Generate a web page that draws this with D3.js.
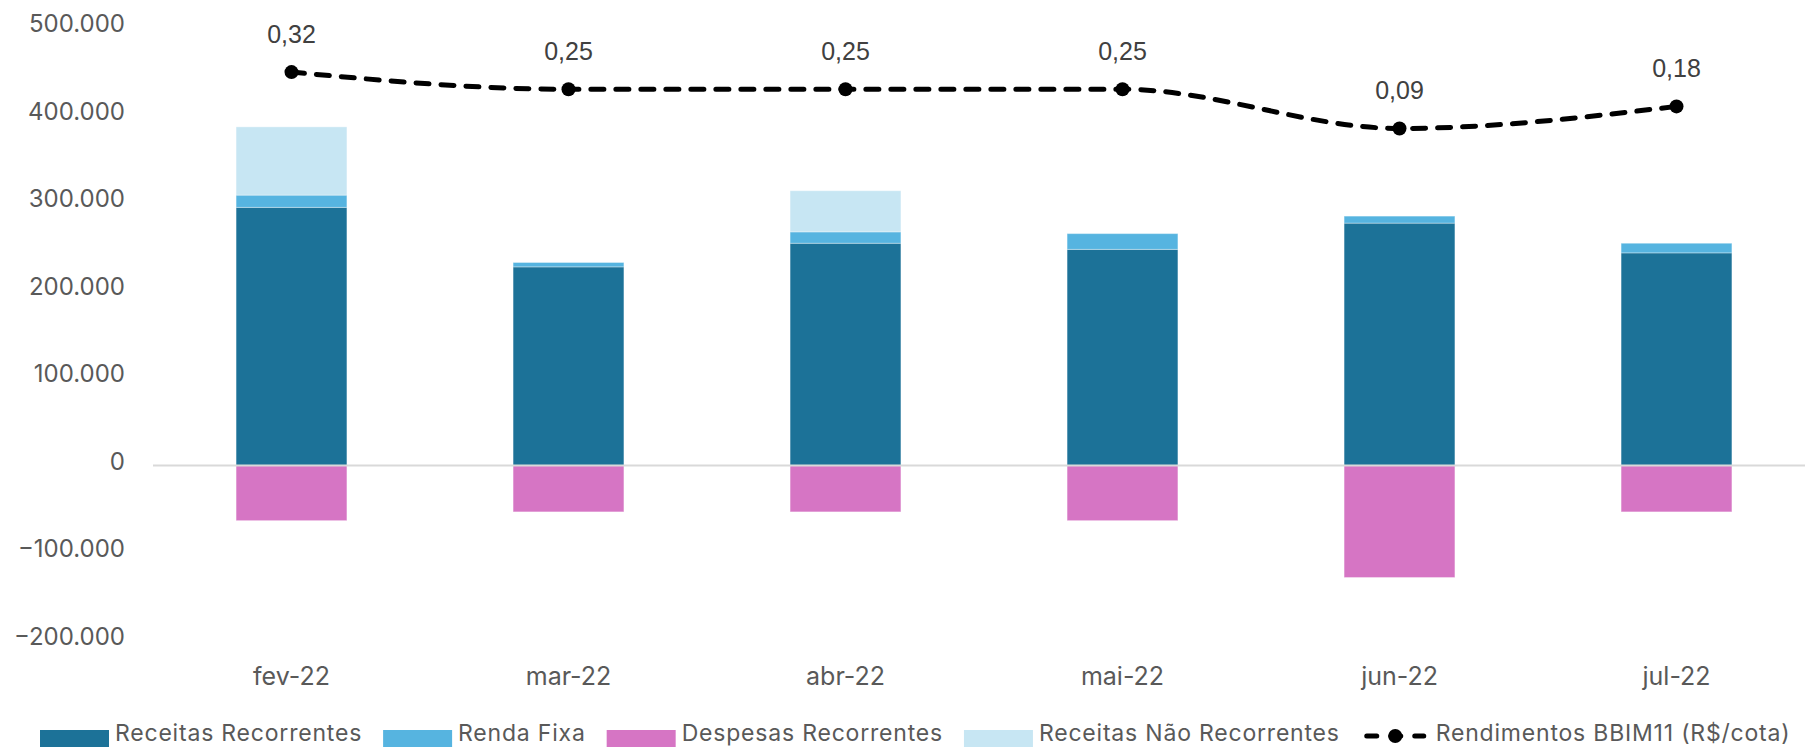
<!DOCTYPE html>
<html>
<head>
<meta charset="utf-8">
<script src="https://cdn.jsdelivr.net/npm/d3@7"></script>
<style>
  html, body { margin: 0; padding: 0; background: #fff; }
  svg { display: block; }
</style>
</head>
<body>
<div id="chart"></div>
<script>
const months = ["fev-22", "mar-22", "abr-22", "mai-22", "jun-22", "jul-22"];
const receitasRecorrentes = [295000, 227000, 254000, 247000, 277000, 243000];
const rendaFixa = [14000, 5000, 13000, 18000, 8000, 11000];
const despesasRecorrentes = [-63000, -53000, -53000, -63000, -128000, -53000];
const receitasNaoRecorrentes = [78000, 0, 47000, 0, 0, 0];
const rendimentos = [0.32, 0.25, 0.25, 0.25, 0.09, 0.18];
const yTicks = [-200000, -100000, 0, 100000, 200000, 300000, 400000, 500000];

const seriesNames = ["Receitas Recorrentes", "Renda Fixa", "Despesas Recorrentes", "Receitas Não Recorrentes"];
const lineName = "Rendimentos BBIM11 (R$/cota)";

const width = 1805;
const height = 747;
const colors = {
  "Receitas Recorrentes": "#1c7298",
  "Renda Fixa": "#56b4e0",
  "Despesas Recorrentes": "#d675c4",
  "Receitas Não Recorrentes": "#c7e6f3",
};
const textColor = "#595959";

const ptBR = d3.formatLocale({ decimal: ",", thousands: ".", grouping: [3], currency: ["R$", ""] });
const fmtAxis = ptBR.format(",.0f");
const fmtLine = ptBR.format(",.2f");

const table = months.map((m, i) => ({
  month: m,
  "Receitas Recorrentes": receitasRecorrentes[i],
  "Renda Fixa": rendaFixa[i],
  "Despesas Recorrentes": despesasRecorrentes[i],
  "Receitas Não Recorrentes": receitasNaoRecorrentes[i],
}));

const svg = d3.select("#chart").append("svg").attr("width", width).attr("height", height);

/** scales **/
const x = d3.scaleBand().domain(months).range([153, 1815]).paddingInner(0.6).paddingOuter(0.3);
const y = d3.scaleLinear().domain([-200000, 500000]).range([640.5, 28]);
const y2 = d3.scaleLinear().domain([-2, 0.5]).range([640.5, 28]);

/** y axis **/
svg.append("g")
  .attr("transform", "translate(125,0)")
  .call(d3.axisLeft(y).tickValues(yTicks).tickSize(0).tickPadding(0).tickFormat(fmtAxis))
  .call((g) => {
    g.select(".domain").remove();
    g.selectAll("text")
      .attr("y", -4)
      .attr("fill", textColor)
      .attr("font-family", "Inter, 'Noto Sans', sans-serif")
      .attr("font-size", 24);
  });

/** stacked bars **/
const stack = d3.stack().keys(seriesNames).offset(d3.stackOffsetDiverging);
const stacked = stack(table);

svg.append("g")
  .selectAll("g")
  .data(stacked)
  .join("g")
  .attr("fill", (d) => colors[d.key])
  .selectAll("rect")
  .data((d) => d.filter((v) => v[1] - v[0] !== 0))
  .join("rect")
  .attr("x", (d) => x(d.data.month))
  .attr("width", x.bandwidth())
  .attr("y", (d) => y(Math.max(d[0], d[1])))
  .attr("height", (d) => Math.abs(y(d[0]) - y(d[1])))
  .attr("stroke", "#fff")
  .attr("stroke-opacity", 0.35)
  .attr("stroke-width", 1);

/** zero line **/
svg.append("line")
  .attr("x1", 153)
  .attr("x2", width)
  .attr("y1", y(0))
  .attr("y2", y(0))
  .attr("stroke", "#d9d9d9")
  .attr("stroke-width", 2);

/** x axis **/
svg.append("g")
  .attr("transform", "translate(0,667)")
  .call(d3.axisBottom(x).tickSize(0).tickPadding(0))
  .call((g) => {
    g.select(".domain").remove();
    g.selectAll("text")
      .attr("fill", textColor)
      .attr("font-family", "Inter, 'Noto Sans', sans-serif")
      .attr("font-size", 25);
  });

/** line **/
const cx = (m) => x(m) + x.bandwidth() / 2;
const line = d3.line()
  .x((d, i) => cx(months[i]))
  .y((d) => y2(d))
  .curve(d3.curveMonotoneX);

svg.append("path")
  .datum(rendimentos)
  .attr("d", line)
  .attr("fill", "none")
  .attr("stroke", "#000")
  .attr("stroke-width", 5)
  .attr("stroke-linecap", "round")
  .attr("stroke-dasharray", "13 12");

svg.append("g")
  .selectAll("circle")
  .data(rendimentos)
  .join("circle")
  .attr("cx", (d, i) => cx(months[i]))
  .attr("cy", (d) => y2(d))
  .attr("r", 7)
  .attr("fill", "#000");

svg.append("g")
  .selectAll("text")
  .data(rendimentos)
  .join("text")
  .attr("x", (d, i) => cx(months[i]))
  .attr("y", (d) => y2(d) - 38)
  .attr("dy", "0.35em")
  .attr("text-anchor", "middle")
  .attr("fill", "#404040")
  .attr("font-family", "'Liberation Sans', Arial, sans-serif")
  .attr("font-size", 25)
  .text((d) => fmtLine(d));

/** legend **/
const legend = svg.append("g")
  .attr("font-family", "Inter, 'Noto Sans', sans-serif")
  .attr("font-size", 23)
  .attr("letter-spacing", 0.8);
let lx = 40;
const swatchW = 69;
const legendItems = seriesNames.map((k) => ({ name: k, type: "rect" })).concat([{ name: lineName, type: "line" }]);

legendItems.forEach((item) => {
  const g = legend.append("g").attr("transform", `translate(${lx},0)`);
  if (item.type === "rect") {
    g.append("rect").attr("x", 0).attr("y", 730).attr("width", swatchW).attr("height", 20).attr("fill", colors[item.name]);
  } else {
    g.append("line")
      .attr("x1", 6).attr("x2", swatchW - 6).attr("y1", 736).attr("y2", 736)
      .attr("stroke", "#000").attr("stroke-width", 5).attr("stroke-linecap", "round")
      .attr("stroke-dasharray", "10 14");
    g.append("circle").attr("cx", swatchW / 2).attr("cy", 736).attr("r", 7).attr("fill", "#000");
  }
  const t = g.append("text")
    .attr("x", swatchW + 6)
    .attr("y", 741)
    .attr("fill", textColor)
    .text(item.name);
  lx += swatchW + 6 + t.node().getComputedTextLength() + 21;
});
</script>
</body>
</html>
